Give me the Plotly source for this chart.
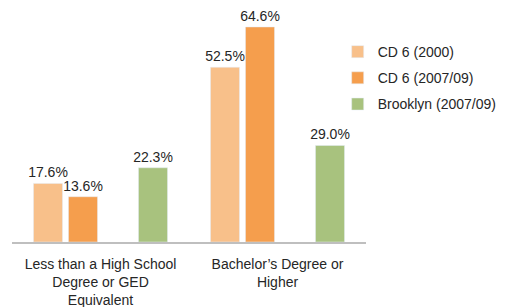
import plotly.graph_objects as go

categories = ["Less than a High School<br>Degree or GED<br>Equivalent", "Bachelor\u2019s Degree or<br>Higher"]
series_names = ["CD 6 (2000)", "CD 6 (2007/09)", "Brooklyn (2007/09)"]
cd6_2000 = [17.6, 52.5]
cd6_2007 = [13.6, 64.6]
brooklyn_2007 = [22.3, 29.0]
colors = ["#F8C08A", "#F59E4D", "#A8C27E"]

font = "Liberation Sans, Arial, sans-serif"
txtcolor = "#262626"

fig = go.Figure()

def add(name, vals, color, group):
    fig.add_trace(go.Bar(
        x=categories, y=vals, name=name, marker_color=color,
        text=[f"{v:.1f}%" for v in vals], textposition="outside",
        textfont=dict(size=14, color=txtcolor, family=font),
        constraintext="none", cliponaxis=False, legendgroup=group,
    ))

add(series_names[0], cd6_2000, colors[0], "a")
add(series_names[1], cd6_2007, colors[1], "b")
# empty slot between the CD 6 bars and the Brooklyn bar
fig.add_trace(go.Bar(x=categories, y=[None, None], showlegend=False, hoverinfo="skip"))
add(series_names[2], brooklyn_2007, colors[2], "c")

fig.update_layout(
    width=512, height=307,
    margin=dict(l=12, r=146, t=9, b=65, autoexpand=False),
    paper_bgcolor="white", plot_bgcolor="white",
    barmode="group", bargap=0.209, bargroupgap=0.17,
    font=dict(family=font, size=14, color=txtcolor),
    showlegend=True,
    legend=dict(x=0.92, y=0.884, xanchor="left", yanchor="top",
                font=dict(size=14, color=txtcolor, family=font),
                tracegroupgap=5, itemwidth=30, bgcolor="rgba(0,0,0,0)"),
    xaxis=dict(showline=True, linecolor="#BFBFBF", linewidth=2, ticks="",
               automargin=False, ticklabelstandoff=8,
               tickfont=dict(size=14, color=txtcolor, family=font), showgrid=False),
    yaxis=dict(range=[0, 70], visible=False, showgrid=False, automargin=False),
)

fig.write_html("out.html", config={"displayModeBar": False},
               post_script="document.body.style.margin='0';document.body.style.overflow='hidden';")
